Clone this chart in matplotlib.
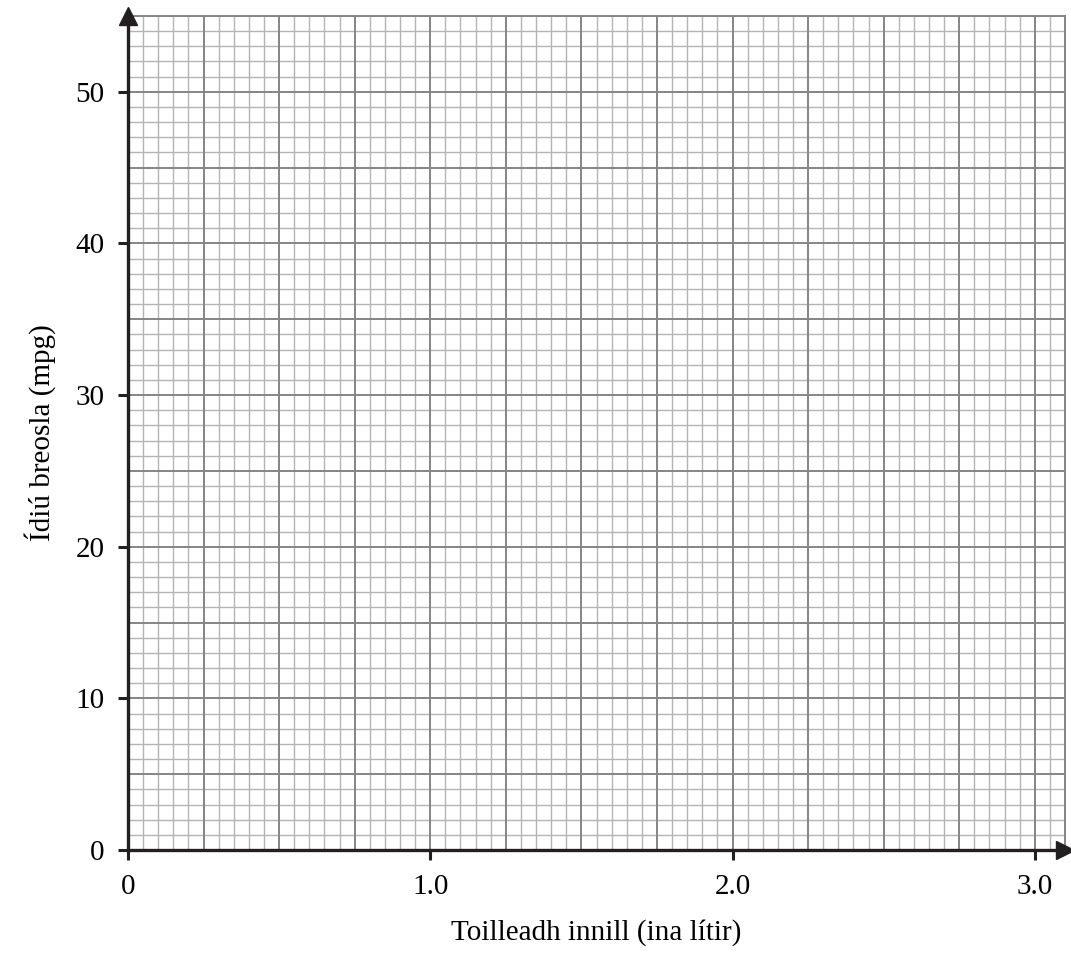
import numpy as np
from matplotlib import pyplot as plt

plt.rcParams['font.family'] = ['Liberation Serif', 'DejaVu Serif']

# axis ranges and ticks
x_limits = [0, 3.1]
y_limits = [0, 55]
x_ticks = [0, 1.0, 2.0, 3.0]
x_tick_labels = ['0', '1.0', '2.0', '3.0']
y_ticks = [0, 10, 20, 30, 40, 50]
y_tick_labels = ['0', '10', '20', '30', '40', '50']
x_major_step = 0.25
x_minor_step = 0.05
y_major_step = 5
y_minor_step = 1

x_label = 'Toilleadh innill (ina lítir)'
y_label = 'Ídiú breosla (mpg)'


def draw_grid(ax):
    for x in np.arange(x_limits[0], x_limits[1] + 1e-9, x_minor_step):
        major = abs(x / x_major_step - round(x / x_major_step)) < 1e-6
        ax.axvline(x, color='#858585' if major else '#b4b4b4',
                   lw=1.4 if major else 1.0, zorder=1 if major else 0)
    for y in np.arange(y_limits[0], y_limits[1] + 1e-9, y_minor_step):
        major = y % y_major_step == 0
        ax.axhline(y, color='#858585' if major else '#b4b4b4',
                   lw=1.4 if major else 1.0, zorder=1 if major else 0)


fig = plt.figure(figsize=(10.71, 9.55), dpi=100)
ax = fig.add_axes([128 / 1071, 105 / 955, (1065 - 128) / 1071, (850 - 16) / 955])
ax.set_xlim(x_limits)
ax.set_ylim(y_limits)
draw_grid(ax)

ax.set_xticks(x_ticks)
ax.set_xticklabels(x_tick_labels)
ax.set_yticks(y_ticks)
ax.set_yticklabels(y_tick_labels)
ax.tick_params(direction='out', length=7, width=2.2, labelsize=21, pad=10, color='#231f20')

for side in ['top', 'right']:
    ax.spines[side].set_color('#858585')
    ax.spines[side].set_linewidth(1.4)
for side in ['left', 'bottom']:
    ax.spines[side].set_color('#231f20')
    ax.spines[side].set_linewidth(2.4)
    ax.spines[side].set_zorder(5)

ax.plot([0], [1], marker='^', ms=13, color='#231f20', transform=ax.get_xaxis_transform(),
        clip_on=False, zorder=6)
ax.plot([1], [0], marker='>', ms=13, color='#231f20', transform=ax.get_yaxis_transform(),
        clip_on=False, zorder=6)

ax.set_xlabel(x_label, fontsize=21, labelpad=14)
ax.set_ylabel(y_label, fontsize=21, labelpad=14)

fig.savefig('out.png', dpi=100)
